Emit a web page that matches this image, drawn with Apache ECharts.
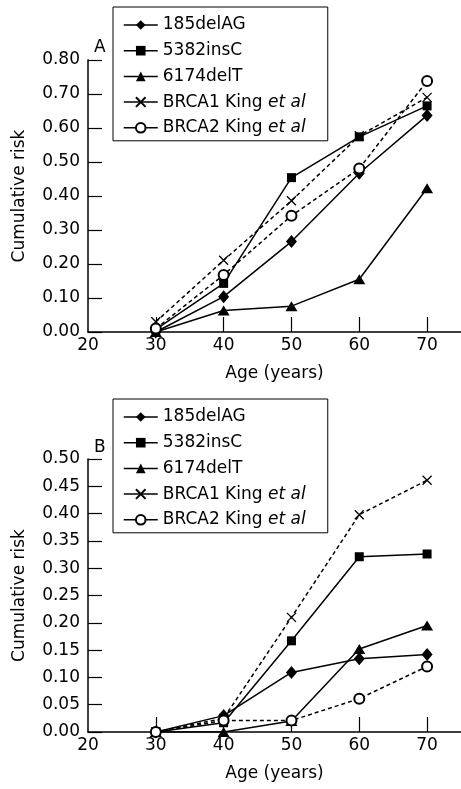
<!DOCTYPE html>
<html>
<head>
<meta charset="utf-8">
<script src="https://cdn.jsdelivr.net/npm/echarts@6/dist/echarts.min.js"></script>
<style>
html,body{margin:0;padding:0;background:#fff;}
#chart{width:461px;height:789px;}
</style>
</head>
<body>
<div id="chart"></div>
<script>
// Data
var ages = [30, 40, 50, 60, 70];
var xTickLabels = [20, 30, 40, 50, 60, 70];
var seriesNames = ['185delAG', '5382insC', '6174delT', 'BRCA1 King et al', 'BRCA2 King et al'];

// Panel A
var a_185delAG = [0.00, 0.104, 0.266, 0.467, 0.637];
var a_5382insC = [0.008, 0.143, 0.454, 0.574, 0.665];
var a_6174delT = [0.00, 0.063, 0.076, 0.155, 0.423];
var a_BRCA1King = [0.03, 0.211, 0.386, 0.577, 0.690];
var a_BRCA2King = [0.01, 0.168, 0.342, 0.481, 0.738];

// Panel B
var b_185delAG = [0.00, 0.030, 0.109, 0.134, 0.142];
var b_5382insC = [0.00, 0.017, 0.167, 0.321, 0.326];
var b_6174delT = [0.00, 0.00, 0.020, 0.152, 0.195];
var b_BRCA1King = [0.00, 0.025, 0.210, 0.398, 0.461];
var b_BRCA2King = [0.00, 0.021, 0.021, 0.061, 0.120];

var FONT = 'DejaVu Sans';
var crossPath = 'path://M0,0L10,10M0,10L10,0';

var styles = [
  {symbol: 'diamond', symbolSize: [11, 13], dashed: false},
  {symbol: 'rect', symbolSize: 9, dashed: false},
  {symbol: 'triangle', symbolSize: [12, 10], dashed: false},
  {symbol: crossPath, symbolSize: 9, dashed: true},
  {symbol: 'emptyCircle', symbolSize: 10, dashed: true}
];

function pairs(vals) {
  return ages.map(function (a, i) { return [a, vals[i]]; });
}

function makeSeries(valsList, gridIdx) {
  return valsList.map(function (vals, i) {
    var st = styles[i];
    var stroke = (st.symbol === crossPath || st.symbol === 'emptyCircle');
    return {
      name: seriesNames[i],
      type: 'line',
      xAxisIndex: gridIdx,
      yAxisIndex: gridIdx,
      data: pairs(vals),
      symbol: st.symbol,
      symbolSize: st.symbolSize,
      showAllSymbol: true,
      animation: false,
      z: 2 + i,
      lineStyle: {color: '#000', width: 1.5, type: st.dashed ? [4, 3] : 'solid'},
      itemStyle: {color: '#000', borderColor: '#000', borderWidth: stroke ? 1.3 : 0},
      emphasis: {disabled: true}
    };
  });
}

function legendFormatter(name) {
  if (name.slice(-6) === ' et al') {
    return name.slice(0, -6) + ' {it|et al}';
  }
  return name;
}

function makeLegend(top) {
  return {
    orient: 'vertical',
    left: 113,
    top: top,
    data: seriesNames,
    itemWidth: 34,
    itemHeight: 12,
    itemGap: 7.7,
    itemTextGap: 10,
    padding: [9, 8, 4, 10],
    borderColor: '#000',
    borderWidth: 1,
    backgroundColor: '#fff',
    selectedMode: false,
    lineStyle: {type: 'solid', width: 1.5},
    formatter: legendFormatter,
    textStyle: {
      fontFamily: FONT, fontSize: 17, color: '#000', lineHeight: 18, width: 157,
      rich: {it: {fontFamily: FONT, fontSize: 17, fontStyle: 'italic', color: '#000', lineHeight: 18}}
    }
  };
}

function makeX(gridIdx) {
  return {
    type: 'value', gridIndex: gridIdx, min: 20, max: 75, interval: 10,
    name: 'Age (years)', nameLocation: 'middle', nameGap: 33,
    nameTextStyle: {fontFamily: FONT, fontSize: 17, color: '#000'},
    axisLine: {onZero: false, lineStyle: {color: '#000', width: 1.5}},
    axisTick: {inside: true, length: 15, lineStyle: {color: '#000', width: 1.2}, customValues: [30, 40, 50, 60, 70]},
    axisLabel: {fontFamily: FONT, fontSize: 17, color: '#000', margin: 5, customValues: xTickLabels},
    splitLine: {show: false}
  };
}

function makeY(gridIdx, max, interval) {
  return {
    type: 'value', gridIndex: gridIdx, min: 0, max: max, interval: interval,
    name: 'Cumulative risk', nameLocation: 'middle', nameGap: 60,
    nameTextStyle: {fontFamily: FONT, fontSize: 17, color: '#000'},
    axisLine: {show: true, onZero: false, lineStyle: {color: '#000', width: 1.5}},
    axisTick: {show: true, inside: true, length: 14, lineStyle: {color: '#000', width: 1.2}},
    axisLabel: {fontFamily: FONT, fontSize: 17, color: '#000', margin: 8, formatter: function (v) { return v.toFixed(2); }},
    splitLine: {show: false}
  };
}

var chart = echarts.init(document.getElementById('chart'), null, {renderer: 'canvas'});
chart.setOption({
  backgroundColor: '#fff',
  animation: false,
  title: [
    {text: 'A', left: 89, top: 34, textStyle: {fontFamily: FONT, fontSize: 17, fontWeight: 'normal', color: '#000'}},
    {text: 'B', left: 89, top: 434, textStyle: {fontFamily: FONT, fontSize: 17, fontWeight: 'normal', color: '#000'}}
  ],
  legend: [makeLegend(7), makeLegend(399)],
  grid: [
    {left: 88, top: 60, width: 374, height: 272},
    {left: 88, top: 459, width: 374, height: 273}
  ],
  xAxis: [makeX(0), makeX(1)],
  yAxis: [makeY(0, 0.8, 0.1), makeY(1, 0.5, 0.05)],
  series: makeSeries([a_185delAG, a_5382insC, a_6174delT, a_BRCA1King, a_BRCA2King], 0)
    .concat(makeSeries([b_185delAG, b_5382insC, b_6174delT, b_BRCA1King, b_BRCA2King], 1))
});
</script>
</body>
</html>
